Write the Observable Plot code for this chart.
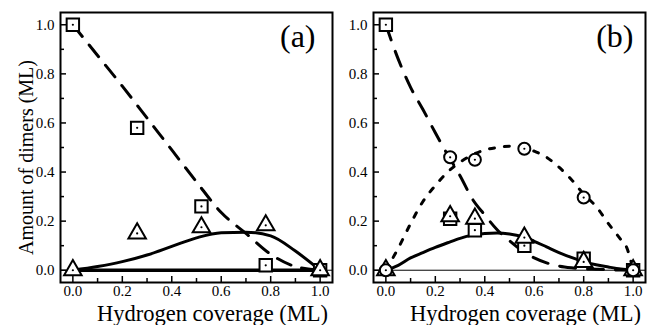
<!DOCTYPE html>
<html><head><meta charset="utf-8">
<script src="https://cdn.jsdelivr.net/npm/d3@7"></script>
<script src="https://cdn.jsdelivr.net/npm/@observablehq/plot@0.6"></script>
<style>
html,body{margin:0;padding:0;background:#fff;}
#wrap{display:flex;width:652px;height:325px;overflow:hidden;}
#wrap svg{display:block;font-family:"Liberation Serif","Times New Roman",serif !important;}
#wrap svg text{font-family:"Liberation Serif","Times New Roman",serif !important;}
</style></head><body><div id="wrap"></div>
<script>
// ---- Panel (a) data ----
const markerXA = [0, 0.26, 0.52, 0.78, 1.0];
const squaresA = [1.0, 0.58, 0.26, 0.02, 0.0];
const trianglesA = [0.0, 0.15, 0.175, 0.183, 0.0];
const curveXA = [0, 0.1, 0.2, 0.3, 0.4, 0.5, 0.6, 0.7, 0.8, 0.9, 1.0];
const dashedA = [1.0, 0.875, 0.75, 0.62, 0.49, 0.36, 0.235, 0.15, 0.065, 0.015, 0.0];
const solidA = [0.0, 0.015, 0.035, 0.062, 0.097, 0.132, 0.153, 0.155, 0.14, 0.078, 0.0];
const flatXA = [0, 1];
const flatA = [0, 0];

// ---- Panel (b) data ----
const markerXB = [0, 0.26, 0.36, 0.56, 0.80, 1.0];
const squaresB = [1.0, 0.21, 0.163, 0.10, 0.047, 0.0];
const trianglesB = [0.0, 0.22, 0.21, 0.133, 0.034, 0.0];
const circlesB = [0.0, 0.46, 0.45, 0.495, 0.296, 0.0];
const curveXB = [0, 0.05, 0.1, 0.15, 0.2, 0.25, 0.3, 0.35, 0.4, 0.45, 0.5, 0.55, 0.6, 0.65, 0.7, 0.75, 0.8, 0.85, 0.9, 0.95, 1.0];
const dashedB = [1.0, 0.86, 0.745, 0.655, 0.56, 0.47, 0.385, 0.29, 0.225, 0.165, 0.12, 0.08, 0.05, 0.03, 0.017, 0.01, 0.006, 0.004, 0.002, 0.001, 0.0];
const solidB = [0.0, 0.02, 0.05, 0.072, 0.093, 0.112, 0.13, 0.143, 0.15, 0.152, 0.148, 0.138, 0.118, 0.095, 0.072, 0.052, 0.035, 0.022, 0.013, 0.005, 0.0];
const dottedXB = [0, 0.05, 0.1, 0.15, 0.2, 0.25, 0.3, 0.35, 0.4, 0.45, 0.5, 0.55, 0.6, 0.65, 0.7, 0.75, 0.8, 0.85, 0.9, 0.95, 0.975, 1.0];
const dottedB = [0.0, 0.09, 0.19, 0.28, 0.345, 0.40, 0.44, 0.47, 0.49, 0.50, 0.505, 0.50, 0.485, 0.46, 0.42, 0.37, 0.31, 0.26, 0.19, 0.125, 0.09, 0.0];

// ---- axes / text ----
const majorTicks = [0, 0.2, 0.4, 0.6, 0.8, 1.0];
const minorTicks = [0.1, 0.3, 0.5, 0.7, 0.9];
const tickLabels = ["0.0", "0.2", "0.4", "0.6", "0.8", "1.0"];
const panelLabels = ["(a)", "(b)"];
const xTitle = "Hydrogen coverage (ML)";
const yTitle = "Amount of dimers (ML)";

const FONT = "Liberation Serif";
const zip = (xs, ys) => xs.map((x, i) => ({x, y: ys[i]}));
const fmt = d => tickLabels[majorTicks.indexOf(d)];

function panel({width, marginLeft, marginRight, label, lines, markers, showYTitle, labelDx}) {
  const marks = [
    Plot.ruleY([0], {stroke: "black", strokeWidth: 1}),
    ...lines,
  ];
  for (const m of markers) {
    marks.push(Plot.dot(m.data, {x: "x", y: "y", symbol: m.symbol, r: m.r, stroke: "black", strokeWidth: 2, fill: "white"}));
    marks.push(Plot.dot(m.data, {x: "x", y: "y", r: 1.1, fill: "black"}));
  }
  marks.push(
    Plot.frame({stroke: "black", strokeWidth: 2}),
    Plot.axisY({ticks: majorTicks, tickSize: -6, fill: "none", label: null, strokeWidth: 1.5}),
    Plot.axisY({ticks: minorTicks, tickSize: -4, fill: "none", label: null, strokeWidth: 1.5}),
    Plot.axisX({ticks: majorTicks, tickSize: -6, fill: "none", label: null, strokeWidth: 1.5}),
    Plot.axisX({ticks: minorTicks, tickSize: -4, fill: "none", label: null, strokeWidth: 1.5}),
    Plot.axisY({ticks: majorTicks, tickSize: 0, tickPadding: 6, tickFormat: fmt, label: null, fontSize: 15, fontFamily: FONT}),
    Plot.axisX({ticks: majorTicks, tickSize: 0, tickPadding: 3, tickFormat: fmt, label: null, fontSize: 15, fontFamily: FONT}),
    Plot.text([xTitle], {frameAnchor: "bottom", textAnchor: "middle", lineAnchor: "bottom", dy: 38, dx: 16, fontSize: 22.5, fontFamily: FONT, fill: "black"}),
    Plot.text([label], {frameAnchor: "top-right", textAnchor: "end", lineAnchor: "top", dx: -labelDx, dy: 12, fontSize: 32, fontFamily: FONT, fill: "black"})
  );
  if (showYTitle) {
    marks.push(Plot.text([yTitle], {frameAnchor: "left", textAnchor: "middle", rotate: -90, lineAnchor: "bottom", dx: -28, dy: 10, fontSize: 20, fontFamily: FONT, fill: "black"}));
  }
  return Plot.plot({
    width, height: 325,
    marginLeft, marginRight, marginTop: 12, marginBottom: 43,
    x: {domain: [-0.05, 1.05]},
    y: {domain: [-0.05, 1.05]},
    style: {fontFamily: FONT, fontSize: "15px", background: "white", color: "black", overflow: "visible"},
    marks
  });
}

const wrap = document.getElementById("wrap");

wrap.appendChild(panel({
  width: 335, marginLeft: 60, marginRight: 3, label: panelLabels[0], showYTitle: true, labelDx: 17,
  lines: [
    Plot.line(zip(flatXA, flatA), {x: "x", y: "y", stroke: "black", strokeWidth: 3.5}),
    Plot.line(zip(curveXA, solidA), {x: "x", y: "y", curve: "monotone-x", stroke: "black", strokeWidth: 3}),
    Plot.line(zip(curveXA, dashedA), {x: "x", y: "y", curve: "monotone-x", stroke: "black", strokeWidth: 3, strokeDasharray: "15,11"})
  ],
  markers: [
    {data: zip(markerXA, squaresA), symbol: "square", r: 7},
    {data: zip(markerXA, trianglesA), symbol: "triangle", r: 6.5}
  ]
}));

wrap.appendChild(panel({
  width: 317, marginLeft: 38, marginRight: 7, label: panelLabels[1], showYTitle: false, labelDx: 12,
  lines: [
    Plot.line(zip(curveXB, solidB), {x: "x", y: "y", curve: "monotone-x", stroke: "black", strokeWidth: 3}),
    Plot.line(zip(curveXB, dashedB), {x: "x", y: "y", curve: "monotone-x", stroke: "black", strokeWidth: 3, strokeDasharray: "16,12"}),
    Plot.line(zip(dottedXB, dottedB), {x: "x", y: "y", curve: "monotone-x", stroke: "black", strokeWidth: 3, strokeDasharray: "5,10"})
  ],
  markers: [
    {data: zip(markerXB, squaresB), symbol: "square", r: 7},
    {data: zip(markerXB, trianglesB), symbol: "triangle", r: 6.5},
    {data: zip(markerXB, circlesB), symbol: "circle", r: 6}
  ]
}));
</script></body></html>
